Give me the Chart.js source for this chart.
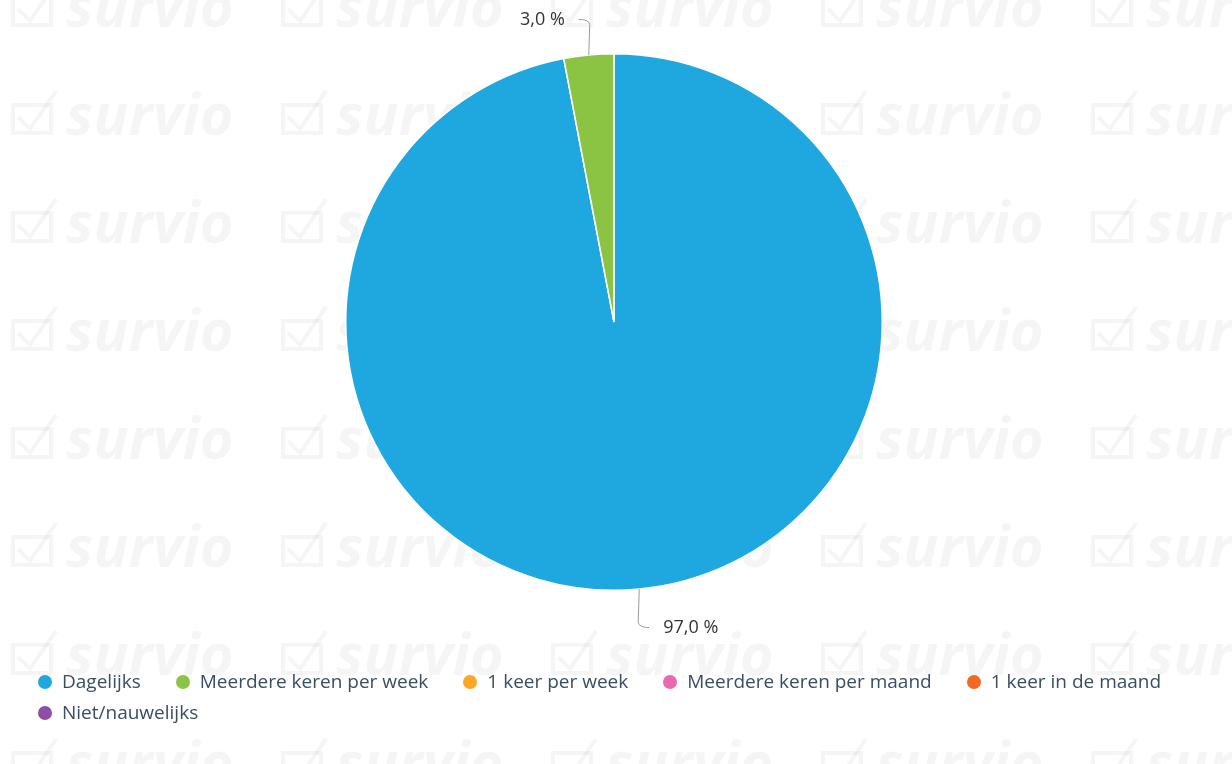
<!DOCTYPE html>
<html lang="nl">
<head>
<meta charset="utf-8">
<title>Hoe vaak</title>
<script src="https://cdn.jsdelivr.net/npm/chart.js@4.4.1/dist/chart.umd.min.js"></script>
<style>
    html, body {
        margin: 0;
        padding: 0;
        background: #fff;
    }
    .wrap {
        position: relative;
        width: 1232px;
        height: 764px;
        overflow: hidden;
    }
    #pieChart {
        position: absolute;
        left: 0;
        top: 0;
    }
    .legend {
        position: absolute;
        left: 38px;
        top: 666px;
        width: 1180px;
        display: flex;
        flex-wrap: wrap;
        column-gap: 35px;
        font-family: "Open Sans", sans-serif;
        font-size: 19px;
        line-height: 31px;
        color: #3b4d63;
    }
    .legend span {
        display: flex;
        align-items: center;
        white-space: nowrap;
    }
    .legend i {
        display: inline-block;
        width: 14px;
        height: 14px;
        border-radius: 50%;
        margin-right: 10px;
    }
</style>
</head>
<body>
<div class="wrap">
    <canvas id="pieChart" width="1232" height="764"></canvas>
    <div class="legend" id="legend"></div>
</div>

<script>
const categories = [
    'Dagelijks',
    'Meerdere keren per week',
    '1 keer per week',
    'Meerdere keren per maand',
    '1 keer in de maand',
    'Niet/nauwelijks'
];
const percentages = [97.0, 3.0, 0, 0, 0, 0];
const sliceColors = ['#1fa8e0', '#8bc443', '#fba825', '#e86aad', '#f26a21', '#8e4ea6'];

// faint "survio" tiles behind everything
const watermark = {
    id: 'watermark',
    beforeDraw(chart) {
        const ctx = chart.ctx;
        ctx.save();
        ctx.fillStyle = 'rgba(0,0,0,0.04)';
        ctx.strokeStyle = 'rgba(0,0,0,0.04)';
        ctx.lineWidth = 4;
        ctx.font = 'italic bold 58px "Open Sans", sans-serif';
        ctx.textBaseline = 'alphabetic';
        for (let row = 0; row < 8; row++) {
            const base = 27 + row * 108;
            for (let col = 0; col < 5; col++) {
                const left = 10 + col * 270;
                // box + tick
                ctx.strokeRect(left + 3, base - 30, 38, 28);
                ctx.beginPath();
                ctx.moveTo(left + 8, base - 18);
                ctx.lineTo(left + 20, base - 6);
                ctx.lineTo(left + 46, base - 44);
                ctx.stroke();
                ctx.fillText('survio', left + 56, base);
            }
        }
        ctx.restore();
    }
};

// percentage labels outside the pie with a bent connector
const outsideLabels = {
    id: 'outsideLabels',
    afterDatasetsDraw(chart) {
        const ctx = chart.ctx;
        const meta = chart.getDatasetMeta(0);
        ctx.save();
        ctx.font = '18px "Open Sans", sans-serif';
        ctx.textBaseline = 'middle';
        meta.data.forEach((arc, i) => {
            const value = percentages[i];
            if (!value) return;
            const mid = (arc.startAngle + arc.endAngle) / 2;
            const cos = Math.cos(mid);
            const sin = Math.sin(mid);
            const r = arc.outerRadius;
            const x0 = arc.x + cos * r;
            const y0 = arc.y + sin * r;
            const vdir = sin < 0 ? -1 : 1;
            const hdir = cos < 0 ? -1 : 1;
            const ly = y0 + vdir * 37 + 1.5;

            ctx.strokeStyle = '#9a9a9a';
            ctx.lineWidth = 1;
            ctx.beginPath();
            ctx.moveTo(x0, y0);
            ctx.lineTo(x0 - hdir * 1, ly - vdir * 5);
            ctx.quadraticCurveTo(x0, ly, x0 + hdir * 10, ly);
            ctx.stroke();

            ctx.fillStyle = '#333';
            ctx.textAlign = hdir < 0 ? 'right' : 'left';
            ctx.fillText(value.toFixed(1).replace('.', ',') + ' %', x0 + hdir * 24, ly);
        });
        ctx.restore();
    }
};

const ctx = document.getElementById('pieChart');

window.pieChartInstance = new Chart(ctx, {
    type: 'pie',
    data: {
        labels: categories,
        datasets: [{
            data: percentages,
            backgroundColor: sliceColors,
            borderColor: '#fff',
            borderWidth: 1.5,
            hoverOffset: 0
        }]
    },
    options: {
        responsive: false,
        animation: false,
        layout: {
            padding: { top: 53, bottom: 173, left: 0, right: 4 }
        },
        plugins: {
            legend: { display: false },
            tooltip: { enabled: false }
        }
    },
    plugins: [watermark, outsideLabels]
});

// legend below the chart
const legendBox = document.getElementById('legend');
categories.forEach((name, i) => {
    const item = document.createElement('span');
    const dot = document.createElement('i');
    dot.style.background = sliceColors[i];
    item.appendChild(dot);
    item.appendChild(document.createTextNode(name));
    legendBox.appendChild(item);
});
</script>
</body>
</html>
